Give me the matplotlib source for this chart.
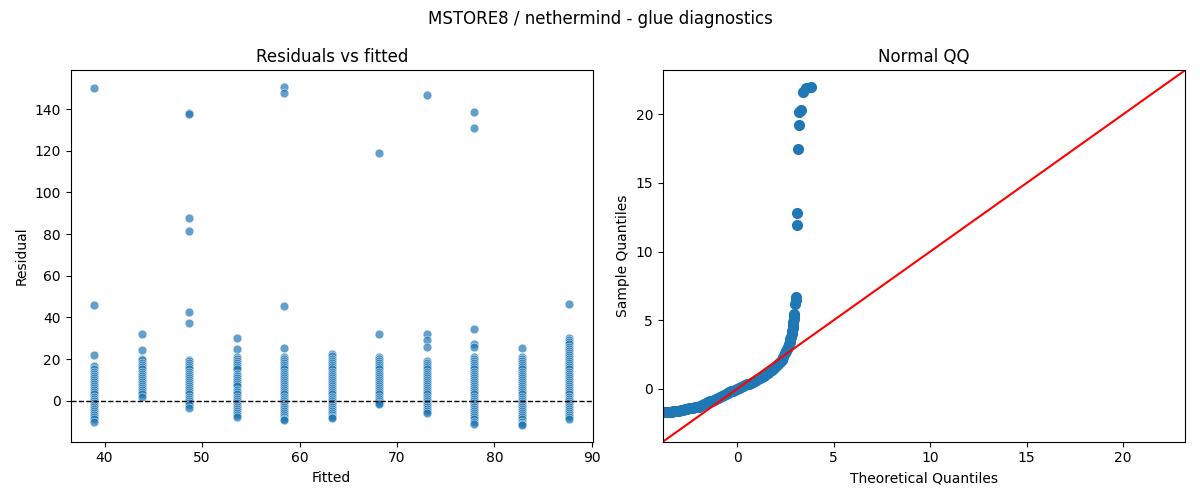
import matplotlib
matplotlib.use("Agg")
import matplotlib.pyplot as plt

# fitted levels (one column of residuals per level)
fitted_levels = [38.96, 43.83, 48.70, 53.57, 58.44, 63.31, 68.18, 73.04, 77.91, 82.78, 87.65]

residuals_by_level = [
    [150, 46, 22, 16.5, 15, 14, 13, 12, 11, 10, 9, 8, 7, 6, 5, 4, 3, 2, 1, 0,
     -1, -2, -3, -4, -5, -6, -7, -8, -9, -10],
    [32, 24.5, 20, 19.5, 18, 17, 16, 15, 14, 13, 12, 11, 10, 9, 8, 7, 6, 5, 4, 3, 2],
    [138, 137.5, 87.5, 81.5, 42.5, 37.5, 19.5, 19, 18, 17, 16, 15, 14, 13, 12, 11,
     10, 9, 8, 7, 6, 5, 4, 3, 2, 1, 0, -1, -2, -3.5],
    [30, 25, 21, 20, 19, 18, 17, 16, 15, 13, 12, 11, 10, 9, 8, 7, 5, 4, 3, 2, 1, 0,
     -1, -2, -3, -4, -5, -6, -7, -8],
    [150.5, 147.5, 45.5, 25.5, 21, 20, 19, 18, 17, 16, 15, 14, 13, 12, 11, 10, 9, 8,
     7, 6, 5, 4, 3, 2, 1, 0, -1, -2, -3, -4, -5, -6, -7, -8, -9, -9.5],
    [22.5, 21.5, 20, 19, 18, 17, 16, 15, 14, 13, 12, 11, 10, 9, 8, 7, 6, 5, 4, 3, 2,
     1, 0, -1, -2, -3, -4, -5, -6, -7, -8, -8.5],
    [119, 32, 21, 20, 19, 18, 17, 16, 15, 14, 13, 12, 11, 10, 9, 8, 7, 6, 5, 4, 3, 2,
     1, 0, -1, -1.5],
    [147, 32, 29, 26, 19, 18, 17, 16, 15, 14, 13, 12, 11, 10, 9, 8, 7, 6, 5, 4, 3, 2,
     1, 0, -1, -2, -3, -4, -5, -6],
    [138.5, 131, 34.5, 27, 26, 21, 20, 19, 18, 17, 16, 15, 14, 13, 12, 11, 10, 9, 8,
     7, 6, 5, 4, 3, 2, 1, 0, -1, -2, -3, -4, -5, -6, -7, -8, -9, -10, -11],
    [25.5, 21, 20, 19, 18, 17, 16, 15, 14, 13, 12, 11, 10, 9, 8, 7, 6, 5, 4, 3, 2, 1,
     0, -1, -2, -3, -4, -5, -6, -7, -8, -9, -10, -11, -11.6],
    [46.5, 30, 29, 28, 27, 26, 25, 24, 23, 22, 21, 20, 19, 18, 17, 16, 15, 14, 13, 12,
     11, 10, 9, 8, 7, 6, 5, 4, 3, 2, 1, 0, -1, -2, -3, -4, -5, -6, -7, -8, -9],
]

# normal QQ points
qq_theoretical = [
    -3.8, -3.7, -3.6, -3.5, -3.4, -3.3, -3.2, -3.1, -3.0, -2.9, -2.8, -2.7, -2.6,
    -2.5, -2.4, -2.3, -2.2, -2.1, -2.0, -1.9, -1.8, -1.7, -1.6, -1.5, -1.4, -1.3,
    -1.2, -1.1, -1.0, -0.9, -0.8, -0.7, -0.6, -0.5, -0.4, -0.3, -0.2, -0.1, 0.0,
    0.1, 0.2, 0.3, 0.4, 0.5, 0.6, 0.7, 0.8, 0.9, 1.0, 1.1, 1.2, 1.3, 1.4, 1.5, 1.6,
    1.7, 1.8, 1.9, 2.0, 2.1, 2.2, 2.3, 2.4, 2.5, 2.55, 2.6, 2.65, 2.7, 2.73, 2.76,
    2.79, 2.82, 2.85, 2.87, 2.89, 2.91, 2.93, 2.94, 2.96, 3.0, 3.03, 3.06, 3.09,
    3.11, 3.14, 3.18, 3.21, 3.29, 3.39, 3.56, 3.82,
]
qq_sample = [
    -1.72, -1.71, -1.70, -1.68, -1.66, -1.64, -1.62, -1.60, -1.58, -1.55, -1.52,
    -1.49, -1.46, -1.43, -1.41, -1.38, -1.35, -1.33, -1.30, -1.25, -1.19, -1.12,
    -1.05, -0.98, -0.91, -0.85, -0.78, -0.72, -0.65, -0.58, -0.52, -0.45, -0.39,
    -0.32, -0.26, -0.19, -0.13, -0.06, 0.00, 0.06, 0.13, 0.19, 0.26, 0.32, 0.39,
    0.45, 0.52, 0.59, 0.65, 0.72, 0.80, 0.88, 0.97, 1.06, 1.16, 1.27, 1.39, 1.52,
    1.66, 1.80, 1.95, 2.12, 2.32, 2.58, 2.75, 2.9, 3.07, 3.25, 3.42, 3.6, 3.8, 4.0,
    4.22, 4.45, 4.68, 4.9, 5.1, 5.3, 5.45, 6.17, 6.5, 6.7, 11.93, 12.78, 17.45,
    19.2, 20.2, 20.3, 21.6, 21.9, 22.0,
]

fig, (ax1, ax2) = plt.subplots(1, 2, figsize=(12, 5), dpi=100)

# residuals vs fitted
xs, ys = [], []
for level, res in zip(fitted_levels, residuals_by_level):
    xs.extend([level] * len(res))
    ys.extend(res)
ax1.scatter(xs, ys, s=40, color="C0", alpha=0.7, edgecolor="w", linewidth=0.5)
ax1.axhline(0, color="black", linestyle="--", linewidth=1)
ax1.set_xlabel("Fitted")
ax1.set_ylabel("Residual")
ax1.set_title("Residuals vs fitted")

# normal QQ
ax2.plot(qq_theoretical, qq_sample, "o", color="C0", markersize=7)
qq_lim = (-3.85, 23.2)
ax2.set_xlim(qq_lim)
ax2.set_ylim(qq_lim)
ax2.axline((0, 0), slope=1, color="r")
ax2.set_xlabel("Theoretical Quantiles")
ax2.set_ylabel("Sample Quantiles")
ax2.set_title("Normal QQ")

fig.suptitle("MSTORE8 / nethermind - glue diagnostics")
plt.tight_layout()
plt.savefig("out.png", dpi=100)
